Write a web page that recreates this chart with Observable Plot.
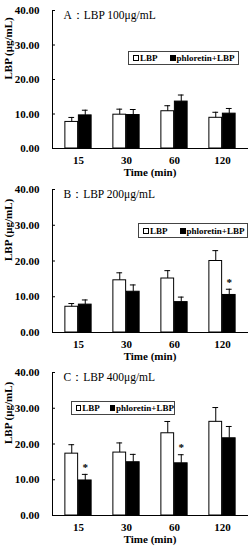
<!DOCTYPE html>
<html><head><meta charset="utf-8">
<script src="https://cdn.jsdelivr.net/npm/d3@7"></script>
<script src="https://cdn.jsdelivr.net/npm/@observablehq/plot@0.6"></script>
<style>
body{margin:0;background:#fff;}
#wrap{width:249px;font-family:"Liberation Serif",serif;}
.panel{position:relative;width:249px;}
.legend{position:absolute;border:1px solid #444;background:#fff;font:bold 9px "Liberation Serif",serif;display:flex;align-items:center;box-sizing:border-box;padding-left:4px;white-space:nowrap;}
.sw{display:inline-block;width:6px;height:6px;border:1px solid #000;margin-right:1px;box-sizing:border-box;}
.sw.b{background:#000;}
.gap{display:inline-block;width:12px;}
</style></head>
<body><div id="wrap"></div>
<script>
const times = ["15","30","60","120"];
const seriesNames = ["LBP","phloretin+LBP"];
const yTicks = [0,10,20,30,40];
const titles = ["A\uFF1ALBP 100\u03BCg/mL","B\uFF1ALBP 200\u03BCg/mL","C\uFF1ALBP 400\u03BCg/mL"];

const lbpA = [7.7, 9.8, 10.8, 8.9];
const lbpAErr = [1.3, 1.6, 1.6, 1.6];
const phlA = [9.6, 9.7, 13.6, 10.1];
const phlAErr = [1.5, 1.6, 1.9, 1.5];
const sigA = [false,false,false,false];

const lbpB = [7.2, 14.6, 15.1, 20.0];
const lbpBErr = [0.9, 2.1, 2.2, 2.9];
const phlB = [7.8, 11.4, 8.5, 10.5];
const phlBErr = [1.3, 1.9, 1.4, 1.6];
const sigB = [false,false,false,true];

const lbpC = [17.3, 17.6, 23.0, 26.2];
const lbpCErr = [2.5, 2.7, 3.3, 4.0];
const phlC = [9.8, 14.9, 14.6, 21.6];
const phlCErr = [1.7, 2.2, 2.4, 3.3];
const sigC = [true,false,true,false];

const panels = [
  {title:titles[0], lbp:lbpA, lbpErr:lbpAErr, phl:phlA, phlErr:phlAErr, sig:sigA, h:180, mt:10, mb:32, leg:{left:128,top:51,w:111,h:14}},
  {title:titles[1], lbp:lbpB, lbpErr:lbpBErr, phl:phlB, phlErr:phlBErr, sig:sigB, h:182, mt:9, mb:30, leg:{left:138,top:43,w:110,h:15}},
  {title:titles[2], lbp:lbpC, lbpErr:lbpCErr, phl:phlC, phlErr:phlCErr, sig:sigC, h:188, mt:10, mb:35, leg:{left:71,top:39,w:104,h:14}}
];

const W = 249, ML = 52, MR = 2;
const bw = (W - ML - MR) / times.length;
const barW = 13.5, capW = 6.5;

const wrap = document.getElementById("wrap");
for (const p of panels) {
  const rows = [];
  times.forEach((t,i)=>{
    rows.push({time:t, s:seriesNames[0], v:p.lbp[i], e:p.lbpErr[i], sig:false});
    rows.push({time:t, s:seriesNames[1], v:p.phl[i], e:p.phlErr[i], sig:p.sig[i]});
  });
  const L = rows.filter(d=>d.s===seriesNames[0]);
  const P = rows.filter(d=>d.s===seriesNames[1]);
  const chart = Plot.plot({
    width: W, height: p.h,
    marginLeft: ML, marginRight: MR, marginTop: p.mt, marginBottom: p.mb,
    style: {fontFamily:"Liberation Serif, serif", fontSize:"11px", fontWeight:"bold", background:"#fff", color:"#000"},
    x: {domain: times, padding: 0, tickSize: 0, tickPadding: 8, line: true, label: null},
    y: {domain: [0,40], ticks: yTicks, tickFormat: d=>d.toFixed(2), tickSize: -3, tickPadding: 16, line: true, label: null},
    marks: [
      Plot.barY(L, {x:"time", y:"v", fill:"#fff", stroke:"#000", strokeWidth:1, insetLeft: bw/2 - barW, insetRight: bw/2}),
      Plot.barY(P, {x:"time", y:"v", fill:"#000", stroke:"#000", strokeWidth:1, insetLeft: bw/2, insetRight: bw/2 - barW}),
      Plot.ruleX(L, {x:"time", y1:"v", y2:d=>d.v+d.e, dx:-barW/2, stroke:"#000"}),
      Plot.ruleX(P, {x:"time", y1:"v", y2:d=>d.v+d.e, dx:barW/2, stroke:"#000"}),
      Plot.tickY(L, {x:"time", y:d=>d.v+d.e, stroke:"#000", insetLeft: bw/2 - barW/2 - capW/2, insetRight: bw/2 + barW/2 - capW/2}),
      Plot.tickY(P, {x:"time", y:d=>d.v+d.e, stroke:"#000", insetLeft: bw/2 + barW/2 - capW/2, insetRight: bw/2 - barW/2 - capW/2}),
      Plot.text(P.filter(d=>d.sig), {x:"time", y:d=>d.v+d.e, text:()=>"*", dx:barW/2, dy:-7, fontSize:11, fill:"#000"}),
      Plot.text([p.title], {frameAnchor:"top-left", dx:11, dy:0, fontSize:11.5, fontWeight:"normal", textAnchor:"start", lineAnchor:"top"}),
      Plot.text(["LBP (\u03BCg/mL)"], {frameAnchor:"left", dx:-44, rotate:-90, fontSize:11}),
      Plot.text(["Time (min)"], {frameAnchor:"bottom", dy:24, fontSize:11, lineAnchor:"middle"})
    ]
  });
  const div = document.createElement("div");
  div.className = "panel";
  div.appendChild(chart);
  const lg = document.createElement("div");
  lg.className = "legend";
  lg.style.left = p.leg.left+"px"; lg.style.top = p.leg.top+"px";
  lg.style.width = p.leg.w+"px"; lg.style.height = p.leg.h+"px";
  lg.innerHTML = `<span class="sw"></span>${seriesNames[0]}<span class="gap"></span><span class="sw b"></span>${seriesNames[1]}`;
  div.appendChild(lg);
  wrap.appendChild(div);
}
</script></body></html>
